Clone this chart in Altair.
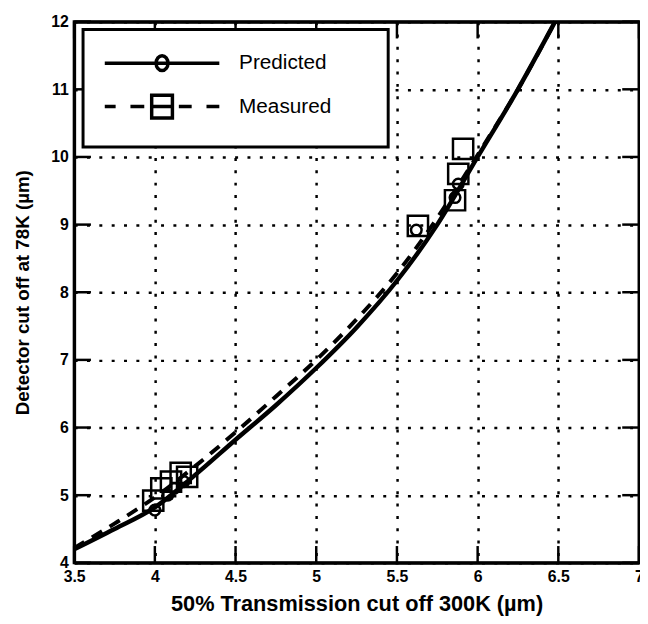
import altair as alt
import pandas as pd

# Predicted curve (solid)
pred_x = [3.5, 3.75, 4.0, 4.25, 4.5, 4.75, 5.0, 5.25, 5.5, 5.75, 6.0, 6.25, 6.48]
pred_y = [4.2, 4.5, 4.82, 5.3, 5.82, 6.33, 6.88, 7.48, 8.17, 9.0, 10.0, 11.0, 12.0]
# Measured curve (dashed)
meas_x = [3.5, 3.75, 4.0, 4.25, 4.5, 4.75, 5.0, 5.25, 5.5, 5.75, 6.0, 6.25, 6.48]
meas_y = [4.22, 4.58, 4.97, 5.43, 5.93, 6.46, 7.0, 7.6, 8.28, 9.1, 10.03, 11.0, 12.0]
# Markers
circ_x = [4.0, 4.08, 4.12, 4.18, 5.62, 5.86, 5.88]
circ_y = [4.78, 5.0, 5.1, 5.2, 8.92, 9.4, 9.6]
sq_x = [3.99, 4.04, 4.1, 4.16, 4.2, 5.63, 5.86, 5.88, 5.91]
sq_y = [4.92, 5.1, 5.2, 5.33, 5.27, 8.98, 9.36, 9.75, 10.12]

series = ["Predicted", "Measured"]
x_ticks = [3.5, 4, 4.5, 5, 5.5, 6, 6.5, 7]
y_ticks = [4, 5, 6, 7, 8, 9, 10, 11, 12]
x_min, x_max = 3.5, 7
y_min, y_max = 4, 12

pred = pd.DataFrame({"x": pred_x, "y": pred_y, "s": "Predicted"})
meas = pd.DataFrame({"x": meas_x, "y": meas_y, "s": "Measured"})
circ = pd.DataFrame({"x": circ_x, "y": circ_y, "s": "Predicted"})
sq = pd.DataFrame({"x": sq_x, "y": sq_y, "s": "Measured"})
marks_all = pd.concat([circ, sq], ignore_index=True)
xt = pd.DataFrame({"x": x_ticks, "ylo": y_min, "yhi": y_max})
yt = pd.DataFrame({"y": y_ticks, "xlo": x_min, "xhi": x_max})

xs = alt.Scale(domain=[x_min, x_max], nice=False, zero=False)
ys = alt.Scale(domain=[y_min, y_max], nice=False, zero=False)

LBL = dict(labelFont="Liberation Sans", labelFontSize=16, labelFontWeight="bold",
           labelColor="black", titleFont="Liberation Sans",
           titleFontWeight="bold", titleColor="black", labelFlush=False)
GRID = dict(grid=True, gridColor="black", gridWidth=2.5, gridDash=[3, 9.5], gridOpacity=1,
            ticks=False)
DOM = dict(domain=True, domainColor="black", domainWidth=3, domainOpacity=1)

XA = alt.Axis(orient="bottom", values=x_ticks, format="~g",
              title="50% Transmission cut off 300K (µm)", labelPadding=6,
              titlePadding=9, titleFontSize=22, **LBL, **GRID, **DOM)
YA = alt.Axis(orient="left", values=y_ticks, format="~g",
              title="Detector cut off at 78K (µm)", labelPadding=6,
              titlePadding=18, titleFontSize=19, **LBL, **GRID, **DOM)
XT = alt.Axis(orient="top", values=x_ticks, labels=False, title=None, grid=False,
              ticks=False, **DOM)
YR = alt.Axis(orient="right", values=y_ticks, labels=False, title=None, grid=False,
              ticks=False, **DOM)


def X(field="x:Q", axis=None):
    return alt.X(field, scale=xs, axis=axis)


def Y(field="y:Q", axis=None):
    return alt.Y(field, scale=ys, axis=axis)


# legend symbols: line with marker (custom SVG paths in symbol units)
pred_path = "M-5.8,0H5.8M-0.6,0A0.6,0.75,0,1,1,0.6,0A0.6,0.75,0,1,1,-0.6,0Z"
meas_path = ("M-5.8,0H-4.7M-3.2,0H-1.8M1.7,0H3M4.5,0H5.8"
             "M-1.05,-1.15H1.05V1.15H-1.05ZM-1.05,0H1.05")

legend = alt.Legend(
    title=".", titleOrient="right", titleColor="white", titleFontSize=21,
    titlePadding=30,
    orient="none", legendX=9, legendY=8,
    padding=22, rowPadding=10, symbolSize=400, symbolOffset=46, labelOffset=66,
    labelFont="Liberation Sans", labelFontSize=21, labelColor="black",
    strokeColor="black", fillColor="white",
    symbolStrokeColor="black", symbolFillColor="transparent",
    symbolStrokeWidth=3.5, symbolOpacity=1,
)

# inward tick marks on all four sides of the box
TL = 17
tick_style = dict(color="black", thickness=2.5, size=TL, opacity=1)
t_bottom = alt.Chart(xt).mark_tick(orient="vertical", yOffset=-TL / 2, **tick_style).encode(
    x=X(), y=Y("ylo:Q"))
t_top = alt.Chart(xt).mark_tick(orient="vertical", yOffset=TL / 2, **tick_style).encode(
    x=X(), y=Y("yhi:Q"))
t_left = alt.Chart(yt).mark_tick(orient="horizontal", xOffset=TL / 2, **tick_style).encode(
    y=Y(), x=X("xlo:Q"))
t_right = alt.Chart(yt).mark_tick(orient="horizontal", xOffset=-TL / 2, **tick_style).encode(
    y=Y(), x=X("xhi:Q"))

l_pred = alt.Chart(pred).mark_line(color="black", strokeWidth=4.5,
                                   interpolate="monotone").encode(x=X(axis=XA), y=Y(axis=YA))
l_meas = alt.Chart(meas).mark_line(color="black", strokeWidth=4, strokeDash=[12, 9],
                                   interpolate="monotone").encode(x=X(axis=XT), y=Y(axis=YR))
p_circ = alt.Chart(circ).mark_point(color="black", filled=False, strokeWidth=2.5, size=115,
                                    shape="circle", opacity=1).encode(x=X(), y=Y())
p_sq = alt.Chart(sq).mark_point(color="black", filled=False, strokeWidth=2.5, size=420,
                                shape="square", opacity=1).encode(x=X(), y=Y())
# legend carrier: invisible points on the markers, shape scale holds the legend symbols
p_leg = alt.Chart(marks_all).mark_point(color="black", filled=False, opacity=0).encode(
    x=X(), y=Y(),
    shape=alt.Shape("s:N", scale=alt.Scale(domain=series, range=[pred_path, meas_path]),
                    legend=legend),
)

chart = alt.layer(t_bottom, t_top, t_left, t_right,
                  l_pred, l_meas, p_circ, p_sq, p_leg).resolve_axis(
    x="independent", y="independent"
).properties(
    width=572, height=548,
    autosize=alt.AutoSizeParams(type="none"),
    padding={"left": 67, "top": 10, "right": 1, "bottom": 50},
).configure(
    background="white",
    view=alt.ViewConfig(stroke="black", strokeWidth=3),
    legend=alt.LegendConfig(strokeWidth=3),
)

chart.save("out.html", embed_options={"renderer": "svg", "actions": False})
